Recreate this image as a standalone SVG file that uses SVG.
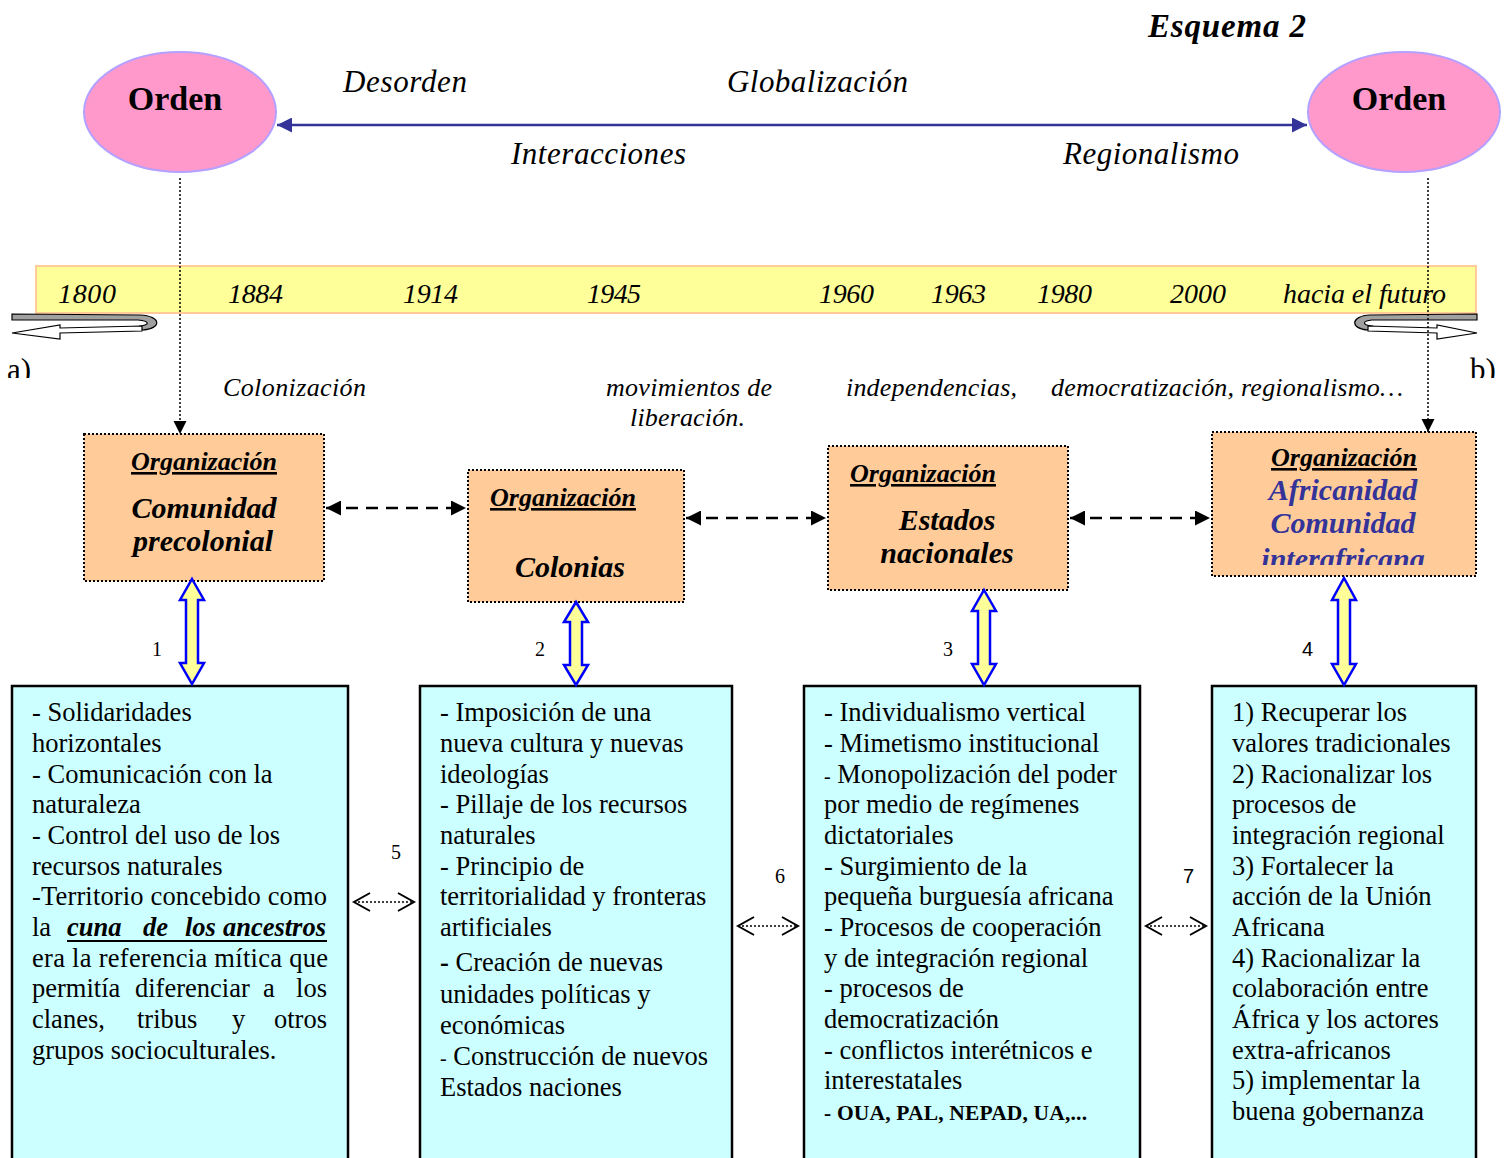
<svg xmlns="http://www.w3.org/2000/svg" width="1512" height="1158" viewBox="0 0 1512 1158">
<style>
text{font-family:"Liberation Serif","Times New Roman",serif;fill:#000}
.it{font-style:italic}
.bi{font-style:italic;font-weight:bold}
.b{font-weight:bold}
.org{font-style:italic;font-weight:bold;font-size:26px;text-decoration:underline}
.big{font-style:italic;font-weight:bold;font-size:30px}
.body{font-size:26.5px}
.num{font-size:20px}
.ell{fill:#ff99cc;stroke:#b3a0ff;stroke-width:2}
.obox{fill:#ffcc99;stroke:#000;stroke-width:2;stroke-dasharray:2 2}
.cbox{fill:#ccffff;stroke:#000;stroke-width:2.5}
.yarr{fill:#ffff99;stroke:#0000ff;stroke-width:2.5}
.dash{stroke:#000;stroke-width:2.5;stroke-dasharray:12 8;fill:none}
.dot{stroke:#000;stroke-width:1.5;stroke-dasharray:2 2;fill:none}
.vee{stroke:#000;stroke-width:2;fill:none}
</style>
<defs>
<marker id="bh" viewBox="0 0 10 10" refX="10" refY="5" markerWidth="6" markerHeight="6" orient="auto-start-reverse" markerUnits="strokeWidth">
<path d="M0,0 L10,5 L0,10 Z" fill="#333399"/>
</marker>
<marker id="kh" viewBox="0 0 10 10" refX="10" refY="5" markerWidth="6" markerHeight="6" orient="auto-start-reverse" markerUnits="strokeWidth">
<path d="M0,0 L10,5 L0,10 Z" fill="#000"/>
</marker>
<marker id="kv" viewBox="0 0 10 10" refX="10" refY="5" markerWidth="9" markerHeight="9" orient="auto-start-reverse" markerUnits="strokeWidth">
<path d="M0,0 L10,5 L0,10 Z" fill="#000"/>
</marker>
<clipPath id="clipA"><rect x="0" y="340" width="1512" height="38"/></clipPath>
<clipPath id="clip4"><rect x="1212" y="432" width="264" height="133"/></clipPath>
</defs>

<text class="bi" x="1148" y="37" font-size="33" textLength="158">Esquema 2</text>

<!-- top -->
<g id="orden-left">
<ellipse class="ell" cx="180" cy="112" rx="96" ry="60"/>
<text class="b" x="175" y="110" font-size="34" text-anchor="middle">Orden</text>
</g>
<g id="orden-right">
<ellipse class="ell" cx="1404" cy="112" rx="96" ry="60"/>
<text class="b" x="1399" y="110" font-size="34" text-anchor="middle">Orden</text>
</g>

<text class="it" x="343" y="92" font-size="31" textLength="124">Desorden</text>
<text class="it" x="727" y="92" font-size="31" textLength="181">Globalización</text>
<text class="it" x="511" y="164" font-size="31" textLength="175">Interacciones</text>
<text class="it" x="1063" y="164" font-size="31" textLength="176">Regionalismo</text>

<!-- timeline -->
<g id="timeline">
<rect x="36" y="266" width="1440" height="47" fill="#ffff99" stroke="#ffcc99" stroke-width="2"/>
<g class="it" font-size="28">
<text x="58" y="303" textLength="58">1800</text>
<text x="228" y="303" textLength="55">1884</text>
<text x="403" y="303" textLength="55">1914</text>
<text x="587" y="303" textLength="54">1945</text>
<text x="819" y="303" textLength="55">1960</text>
<text x="931" y="303" textLength="55">1963</text>
<text x="1037" y="303" textLength="55">1980</text>
<text x="1170" y="303" textLength="56">2000</text>
<text x="1283" y="303" textLength="163">hacia el futuro</text>
</g>
<path d="M12,314 L140,315 C162,316 162,329 142,330 L140,326 C150,325 150,321 138,320 L12,320 Z" fill="#a0a0a0" stroke="#000" stroke-width="1.2"/>
<path d="M142,326 L60,328 L60,325 L12,333 L60,339 L60,333 L142,331 Z" fill="#fff" stroke="#000" stroke-width="1.2"/>
<path d="M1477,314 L1370,315 C1350,316 1350,329 1368,330 L1372,326 C1362,325 1362,321 1372,320 L1477,320 Z" fill="#a0a0a0" stroke="#000" stroke-width="1.2"/>
<path d="M1368,326 L1437,328 L1437,325 L1477,333 L1437,339 L1437,333 L1368,331 Z" fill="#fff" stroke="#000" stroke-width="1.2"/>
</g>

<g clip-path="url(#clipA)">
<text x="7" y="380" font-size="31">a)</text>
<text x="1470" y="380" font-size="31">b)</text>
</g>

<g class="it" font-size="26">
<text x="223" y="396" textLength="143">Colonización</text>
<text x="606" y="396" textLength="166">movimientos de</text>
<text x="630" y="426" textLength="115">liberación.</text>
<text x="846" y="396" textLength="171">independencias,</text>
<text x="1051" y="396" textLength="352">democratización, regionalismo…</text>
</g>

<!-- organization boxes -->
<g id="org1">
<rect class="obox" x="84" y="434" width="240" height="147"/>
<text class="org" x="204" y="470" text-anchor="middle">Organización</text>
<text class="big" x="204" y="518" text-anchor="middle">Comunidad</text>
<text class="big" x="203" y="551" text-anchor="middle">precolonial</text>
</g>
<g id="org2">
<rect class="obox" x="468" y="470" width="216" height="132"/>
<text class="org" x="563" y="506" text-anchor="middle">Organización</text>
<text class="big" x="570" y="577" text-anchor="middle" font-size="31">Colonias</text>
</g>
<g id="org3">
<rect class="obox" x="828" y="446" width="240" height="144"/>
<text class="org" x="923" y="482" text-anchor="middle">Organización</text>
<text class="big" x="947" y="530" text-anchor="middle">Estados</text>
<text class="big" x="947" y="563" text-anchor="middle">nacionales</text>
</g>
<g id="org4">
<rect class="obox" x="1212" y="432" width="264" height="144"/>
<text class="org" x="1344" y="466" text-anchor="middle">Organización</text>
<text class="big" x="1343" y="500" text-anchor="middle" style="fill:#333399">Africanidad</text>
<text class="big" x="1343" y="533" text-anchor="middle" style="fill:#333399">Comunidad</text>
<text class="big" x="1343" y="569" text-anchor="middle" style="fill:#333399" clip-path="url(#clip4)">interafricana</text>
</g>

<!-- content boxes -->
<g id="box1">
<rect class="cbox" x="12" y="686" width="336" height="490"/>
<g class="body">
<text x="32" y="721">- Solidaridades</text>
<text x="32" y="752">horizontales</text>
<text x="32" y="783">- Comunicación con la</text>
<text x="32" y="813">naturaleza</text>
<text x="32" y="844">- Control del uso de los</text>
<text x="32" y="875">recursos naturales</text>
<text x="32" y="905" textLength="295">-Territorio concebido como</text>
<text x="32" y="936">la</text>
<text class="bi" x="67" y="936">cuna</text>
<text class="bi" x="143" y="936">de</text>
<text class="bi" x="185" y="936">los</text>
<text class="bi" x="326" y="936" text-anchor="end">ancestros</text>
<text x="32" y="967" textLength="296">era la referencia mítica que</text>
<text x="32" y="997">permitía</text>
<text x="135" y="997">diferenciar</text>
<text x="263" y="997">a</text>
<text x="327" y="997" text-anchor="end">los</text>
<text x="32" y="1028">clanes,</text>
<text x="137" y="1028">tribus</text>
<text x="232" y="1028">y</text>
<text x="327" y="1028" text-anchor="end">otros</text>
<text x="32" y="1059">grupos socioculturales.</text>
</g>
<line x1="67" y1="941" x2="327" y2="941" stroke="#000" stroke-width="2"/>
</g>

<g id="box2">
<rect class="cbox" x="420" y="686" width="312" height="490"/>
<g class="body">
<text x="440" y="721">- Imposición de una</text>
<text x="440" y="752">nueva cultura y nuevas</text>
<text x="440" y="783">ideologías</text>
<text x="440" y="813">- Pillaje de los recursos</text>
<text x="440" y="844">naturales</text>
<text x="440" y="875">- Principio de</text>
<text x="440" y="905">territorialidad y fronteras</text>
<text x="440" y="936">artificiales</text>
<text x="440" y="971"><tspan class="b">-</tspan> Creación de nuevas</text>
<text x="440" y="1003">unidades políticas y</text>
<text x="440" y="1034">económicas</text>
<text x="440" y="1065"><tspan font-size="20">-</tspan> Construcción de nuevos</text>
<text x="440" y="1096">Estados naciones</text>
</g>
</g>

<g id="box3">
<rect class="cbox" x="804" y="686" width="336" height="490"/>
<g class="body">
<text x="824" y="721">- Individualismo vertical</text>
<text x="824" y="752">- Mimetismo institucional</text>
<text x="824" y="783"><tspan font-size="20">-</tspan> Monopolización del poder</text>
<text x="824" y="813">por medio de regímenes</text>
<text x="824" y="844">dictatoriales</text>
<text x="824" y="875">- Surgimiento de la</text>
<text x="824" y="905">pequeña burguesía africana</text>
<text x="824" y="936">- Procesos de cooperación</text>
<text x="824" y="967">y de integración regional</text>
<text x="824" y="997">- procesos de</text>
<text x="824" y="1028">democratización</text>
<text x="824" y="1059">- conflictos interétnicos e</text>
<text x="824" y="1089">interestatales</text>
</g>
<text class="b" x="824" y="1120" font-size="21.5" textLength="263">- OUA, PAL, NEPAD, UA,...</text>
</g>

<g id="box4">
<rect class="cbox" x="1212" y="686" width="264" height="490"/>
<g class="body">
<text x="1232" y="721">1) Recuperar los</text>
<text x="1232" y="752">valores tradicionales</text>
<text x="1232" y="783">2) Racionalizar los</text>
<text x="1232" y="813">procesos de</text>
<text x="1232" y="844">integración regional</text>
<text x="1232" y="875">3) Fortalecer la</text>
<text x="1232" y="905">acción de la Unión</text>
<text x="1232" y="936">Africana</text>
<text x="1232" y="967">4) Racionalizar la</text>
<text x="1232" y="997">colaboración entre</text>
<text x="1232" y="1028">África y los actores</text>
<text x="1232" y="1059">extra-africanos</text>
<text x="1232" y="1089">5) implementar la</text>
<text x="1232" y="1120">buena gobernanza</text>
</g>
</g>

<!-- connectors -->
<g id="connectors">
<line x1="277" y1="125" x2="1307" y2="125" stroke="#333399" stroke-width="2.5" marker-start="url(#bh)" marker-end="url(#bh)"/>
<line x1="180" y1="178" x2="180" y2="434" stroke="#000" stroke-width="1.5" stroke-dasharray="2 2" marker-end="url(#kv)"/>
<line x1="1428" y1="178" x2="1428" y2="432" stroke="#000" stroke-width="1.5" stroke-dasharray="2 2" marker-end="url(#kv)"/>

<line class="dash" x1="326" y1="508" x2="466" y2="508" marker-start="url(#kh)" marker-end="url(#kh)"/>
<line class="dash" x1="686" y1="518" x2="826" y2="518" marker-start="url(#kh)" marker-end="url(#kh)"/>
<line class="dash" x1="1070" y1="518" x2="1210" y2="518" marker-start="url(#kh)" marker-end="url(#kh)"/>

<path class="yarr" d="M192,579 L204,600 L198,600 L198,663 L204,663 L192,684 L180,663 L186,663 L186,600 L180,600 Z"/>
<path class="yarr" d="M576,602 L588,622 L582,622 L582,665 L588,665 L576,685 L564,665 L570,665 L570,622 L564,622 Z"/>
<path class="yarr" d="M984,590 L996,611 L990,611 L990,664 L996,664 L984,685 L972,664 L978,664 L978,611 L972,611 Z"/>
<path class="yarr" d="M1344,578 L1356,600 L1350,600 L1350,664 L1356,664 L1344,685 L1332,664 L1338,664 L1338,600 L1332,600 Z"/>
<text class="num" x="152" y="656">1</text>
<text class="num" x="535" y="656">2</text>
<text class="num" x="943" y="656">3</text>
<text class="num" x="1302" y="656" style="font-family:'Liberation Sans',Arial,sans-serif">4</text>

<line class="dot" x1="354" y1="902" x2="414" y2="902"/>
<path class="vee" d="M370,893 L354,902 L370,911 M398,893 L414,902 L398,911"/>
<line class="dot" x1="738" y1="926" x2="798" y2="926"/>
<path class="vee" d="M754,917 L738,926 L754,935 M782,917 L798,926 L782,935"/>
<line class="dot" x1="1146" y1="926" x2="1206" y2="926"/>
<path class="vee" d="M1162,917 L1146,926 L1162,935 M1190,917 L1206,926 L1190,935"/>
<text class="num" x="391" y="859">5</text>
<text class="num" x="775" y="883">6</text>
<text class="num" x="1183" y="883" style="font-family:'Liberation Sans',Arial,sans-serif">7</text>
</g>
</svg>
